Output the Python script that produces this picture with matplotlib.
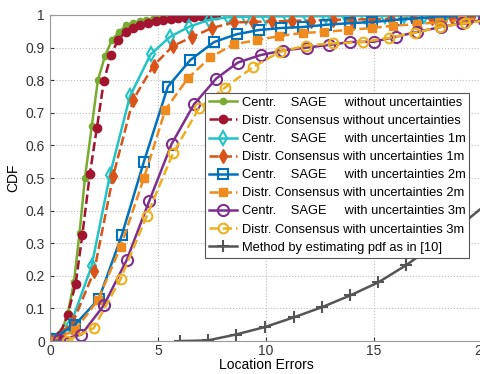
import matplotlib
matplotlib.use("Agg")
import matplotlib.pyplot as plt

plt.rcParams['font.family'] = ['Liberation Sans', 'DejaVu Sans']

# values
sage0_x = [0, 0.25, 0.55, 0.83, 1.11, 1.37, 1.62, 1.94, 2.22, 2.55, 2.87, 3.2, 3.53, 3.85,
           4.15, 4.45, 4.75, 5.05, 5.35, 5.65, 5.95, 6.25, 6.55, 6.85, 7.15, 7.45]
sage0_y = [0, 0.01, 0.03, 0.086, 0.18, 0.33, 0.50, 0.66, 0.80, 0.874, 0.923, 0.948, 0.968, 0.976,
           0.98, 0.984, 0.987, 0.99, 0.992, 0.994, 0.995, 0.996, 0.997, 0.998, 0.999, 1.0]
cons0_x = [0, 0.45, 0.82, 1.19, 1.5, 1.85, 2.17, 2.5, 2.83, 3.15, 3.5, 3.85, 4.17, 4.55,
           4.9, 5.25, 5.6, 5.95, 6.3, 6.65, 7.0, 7.35, 7.7]
cons0_y = [0, 0.02, 0.08, 0.175, 0.325, 0.513, 0.652, 0.798, 0.878, 0.923, 0.948, 0.96, 0.969, 0.976,
           0.98, 0.984, 0.987, 0.99, 0.992, 0.994, 0.996, 0.998, 1.0]
sage1_x = [0.08, 0.93, 1.93, 2.78, 3.7, 4.66, 5.56, 6.45, 7.37, 8.25, 9.1, 10.0, 10.97, 11.9,
           12.8, 13.7, 14.6, 15.5, 16.4, 17.3, 18.3, 19.2, 20.1]
sage1_y = [0, 0.046, 0.23, 0.51, 0.75, 0.879, 0.933, 0.964, 0.985, 0.993, 0.995, 0.995, 0.996, 0.996,
           0.996, 0.997, 0.997, 0.997, 0.998, 0.998, 0.998, 0.999, 0.999]
cons1_x = [0.1, 1.07, 2.05, 2.93, 3.85, 4.8, 5.7, 6.6, 7.5, 8.5, 9.4, 10.3, 11.2, 12.1,
           13.1, 14.0, 14.9, 15.8, 16.8, 17.7, 18.6, 19.5]
cons1_y = [0, 0.058, 0.215, 0.507, 0.74, 0.845, 0.905, 0.933, 0.96, 0.977, 0.979, 0.98, 0.982, 0.983,
           0.985, 0.986, 0.987, 0.988, 0.99, 0.991, 0.993, 0.995]
sage2_x = [0.05, 1.16, 2.27, 3.33, 4.35, 5.46, 6.5, 7.6, 8.65, 9.7, 10.7, 11.7, 12.8, 13.9,
           14.9, 16.0, 17.0, 18.05, 19.07, 20.1]
sage2_y = [0.005, 0.05, 0.13, 0.325, 0.55, 0.78, 0.862, 0.917, 0.941, 0.954, 0.96, 0.963, 0.97, 0.975,
           0.978, 0.985, 0.99, 0.994, 0.998, 1.0]
cons2_x = [0, 1.16, 2.22, 3.28, 4.35, 5.35, 6.4, 7.43, 8.5, 9.6, 10.6, 11.7, 12.7, 13.8,
           14.9, 15.9, 17.0, 18.0, 19.1, 20.1]
cons2_y = [0, 0.033, 0.125, 0.29, 0.50, 0.71, 0.807, 0.87, 0.91, 0.923, 0.935, 0.945, 0.948, 0.954,
           0.96, 0.967, 0.972, 0.978, 0.985, 0.99]
sage3_x = [0.42, 1.46, 2.5, 3.55, 4.6, 5.63, 6.67, 7.7, 8.7, 9.75, 10.8, 11.9, 12.9, 13.9,
           15.0, 16.0, 17.0, 18.1, 19.1, 20.1]
sage3_y = [0.003, 0.02, 0.11, 0.248, 0.43, 0.604, 0.726, 0.805, 0.854, 0.877, 0.891, 0.90, 0.908, 0.917,
           0.918, 0.933, 0.948, 0.963, 0.975, 0.985]
cons3_x = [0.77, 2.03, 3.27, 4.48, 5.7, 6.9, 8.1, 9.4, 10.65, 11.85, 13.1, 14.5, 15.7, 16.9,
           18.05, 19.2, 20.4]
cons3_y = [0, 0.04, 0.19, 0.383, 0.576, 0.714, 0.777, 0.84, 0.887, 0.906, 0.913, 0.917, 0.93, 0.945,
           0.963, 0.975, 0.985]
pdf_x = [6.0, 7.3, 8.6, 9.95, 11.3, 12.6, 13.9, 15.2, 16.5, 17.8, 19.1, 20.4]
pdf_y = [0, 0.002, 0.02, 0.043, 0.073, 0.104, 0.14, 0.18, 0.233, 0.295, 0.36, 0.43]

labels = [
    "Centr.    SAGE     without uncertainties",
    "Distr. Consensus without uncertainties",
    "Centr.    SAGE     with uncertainties 1m",
    "Distr. Consensus with uncertainties 1m",
    "Centr.    SAGE     with uncertainties 2m",
    "Distr. Consensus with uncertainties 2m",
    "Centr.    SAGE     with uncertainties 3m",
    "Distr. Consensus with uncertainties 3m",
    "Method by estimating pdf as in [10]",
]

fig = plt.figure(figsize=(4.8, 3.74), dpi=100)
ax = fig.add_axes([0.104, 0.088, 0.9, 0.872])

lw = 1.8
ax.plot(sage0_x, sage0_y, '-', color='#77AC30', lw=lw, marker='o', ms=4.5, label=labels[0])
ax.plot(cons0_x, cons0_y, '--', color='#A2142F', lw=lw, marker='o', ms=6, label=labels[1])
ax.plot(sage1_x, sage1_y, '-', color='#22C3C6', lw=lw, marker='d', ms=7.5, mfc='none', mew=1.5,
        label=labels[2])
ax.plot(cons1_x, cons1_y, '--', color='#D95319', lw=lw, marker='d', ms=7, label=labels[3])
ax.plot(sage2_x, sage2_y, '-', color='#0072BD', lw=lw, marker='s', ms=6.5, mfc='none', mew=1.5,
        label=labels[4])
ax.plot(cons2_x, cons2_y, '--', color='#EE8A1E', lw=lw, marker='s', ms=6, label=labels[5])
ax.plot(sage3_x, sage3_y, '-', color='#7E2F8E', lw=lw, marker='o', ms=8, mfc='none', mew=1.5,
        label=labels[6])
ax.plot(cons3_x, cons3_y, '--', color='#EDB120', lw=lw, marker='o', ms=7, mfc='none', mew=1.5,
        label=labels[7])
ax.plot(pdf_x, pdf_y, '-', color='#555555', lw=lw, marker='+', ms=8, mew=1.5, label=labels[8])

ax.set_xlim(0, 20)
ax.set_ylim(0, 1)
ax.set_xticks([0, 5, 10, 15, 20])
ax.set_yticks([i / 10 for i in range(11)])
ax.set_yticklabels(["0", "0.1", "0.2", "0.3", "0.4", "0.5", "0.6", "0.7", "0.8", "0.9", "1"])
ax.tick_params(direction='in', labelsize=10, length=3, colors='#333333')
ax.tick_params(axis='x', pad=2)
ax.grid(True, linestyle=':', color='#BBBBBB', lw=0.8)
for s in ax.spines.values():
    s.set_color('#999999')
ax.set_xlabel("Location Errors", fontsize=10, labelpad=0)
ax.set_ylabel("CDF", fontsize=10, labelpad=4)

leg = ax.legend(loc='upper left', bbox_to_anchor=(0.359, 0.761), fontsize=9.3,
                frameon=True, fancybox=False, framealpha=1, edgecolor='#555555',
                handlelength=2.2, handletextpad=0.35, labelspacing=0.47,
                borderpad=0.3, borderaxespad=0)
leg.get_frame().set_linewidth(0.8)

fig.savefig("out.png", dpi=100)
